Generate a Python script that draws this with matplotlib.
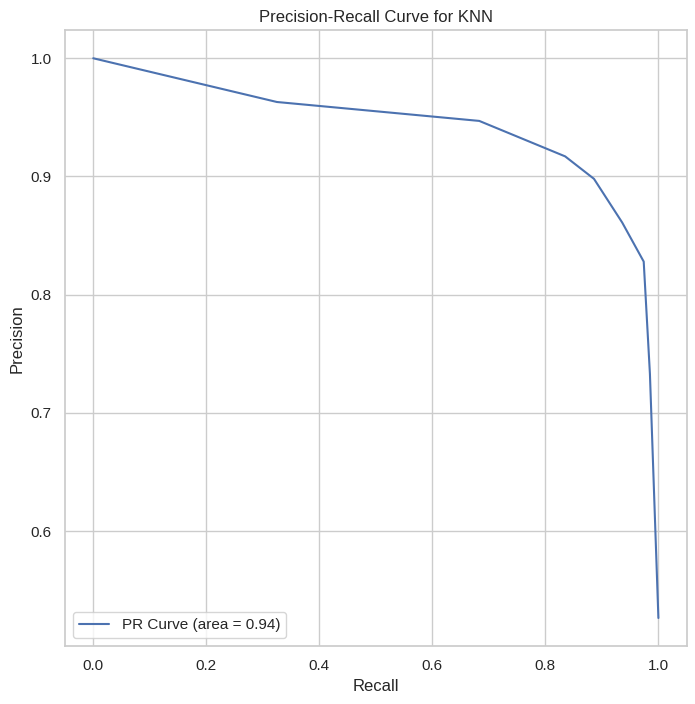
import matplotlib
matplotlib.use("Agg")
import matplotlib.pyplot as plt
import seaborn as sns

# precision-recall points
recall = [0.0, 0.325, 0.683, 0.835, 0.886, 0.936, 0.974, 0.985, 1.0]
precision = [1.0, 0.963, 0.947, 0.917, 0.898, 0.861, 0.828, 0.733, 0.5265]
pr_auc = 0.94

sns.set_theme(style="whitegrid")
plt.rcParams["font.family"] = ["Liberation Sans", "DejaVu Sans"]

fig = plt.figure(figsize=(6.95, 7.04), dpi=100)
ax = fig.add_subplot(111)
ax.plot(recall, precision, label=f"PR Curve (area = {pr_auc:.2f})")
ax.set_xlabel("Recall")
ax.set_ylabel("Precision")
ax.set_title("Precision-Recall Curve for KNN")
ax.legend(loc="lower left")

fig.subplots_adjust(left=0.0935, right=0.988, top=0.957, bottom=0.0824)
fig.savefig("out.png", dpi=100)
plt.close(fig)
